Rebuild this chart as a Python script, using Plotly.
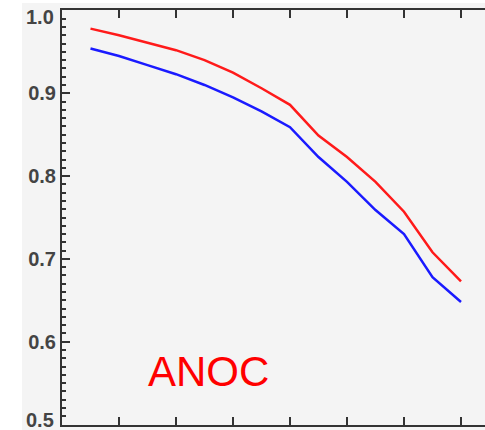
import plotly.graph_objects as go

x_vals = [0.5, 1.0, 1.5, 2.0, 2.5, 3.0, 3.5, 4.0, 4.5, 5.0, 5.5, 6.0, 6.5, 7.0]
red_vals = [0.978, 0.970, 0.961, 0.952, 0.940, 0.925, 0.906, 0.886, 0.849, 0.823, 0.793, 0.757, 0.708, 0.673]
blue_vals = [0.954, 0.945, 0.934, 0.923, 0.910, 0.895, 0.878, 0.859, 0.823, 0.793, 0.759, 0.730, 0.678, 0.648]
y_ticks = [0.6, 0.7, 0.8, 0.9]
y_labels = ["0.6", "0.7", "0.8", "0.9"]
end_labels = ["1.0", "0.5"]
label_text = "ANOC"

fig = go.Figure()
fig.add_trace(go.Scatter(x=x_vals, y=blue_vals, mode="lines",
                         line=dict(color="#1a1aff", width=2.5), showlegend=False))
fig.add_trace(go.Scatter(x=x_vals, y=red_vals, mode="lines",
                         line=dict(color="#ff1a1a", width=2.5), showlegend=False))

fig.add_annotation(x=2.57, y=0.564, xref="x", yref="y", text=label_text,
                   showarrow=False, font=dict(family="Liberation Sans", size=42, color="#ff0000"))

tick_font = dict(family="Liberation Sans", size=20, color="#444444", weight="bold")
# end labels sit slightly inside the axis range, as in the reference
fig.add_annotation(x=0, y=1.0, xref="x", yref="y", text=end_labels[0], showarrow=False,
                   xanchor="right", yanchor="middle", xshift=-6, yshift=-7, font=tick_font)
fig.add_annotation(x=0, y=0.5, xref="x", yref="y", text=end_labels[1], showarrow=False,
                   xanchor="right", yanchor="middle", xshift=-6, yshift=5, font=tick_font)

axis_col = "#333333"
fig.update_layout(
    width=485, height=430,
    margin=dict(l=62, r=0, t=10, b=5),
    paper_bgcolor="#f4f4f4",
    plot_bgcolor="#f4f4f4",
    xaxis=dict(range=[0, 7.421], showgrid=False, zeroline=False, automargin=False,
               showline=True, linecolor=axis_col, linewidth=2, mirror="ticks",
               ticks="inside", ticklen=8, tickwidth=2, tickcolor=axis_col,
               tick0=0, dtick=1, showticklabels=False),
    yaxis=dict(range=[0.4995, 1.0005], showgrid=False, zeroline=False, automargin=False,
               showline=True, linecolor=axis_col, linewidth=2, mirror=False,
               ticks="inside", ticklen=8, tickwidth=2, tickcolor=axis_col,
               tickmode="array", tickvals=y_ticks, ticktext=y_labels,
               ticklabeloverflow="allow",
               tickfont=tick_font,
               minor=dict(tickmode="linear", tick0=0.5, dtick=0.01, ticks="inside",
                          ticklen=4, tickwidth=1.5, tickcolor=axis_col)),
    shapes=[
        dict(type="rect", xref="paper", yref="paper", x0=-62/423, x1=-40/423, y0=-0.1, y1=1.1,
             fillcolor="white", line=dict(width=0), layer="below"),
        dict(type="rect", xref="paper", yref="paper", x0=-0.2, x1=1.1, y0=1 + 7/415, y1=1.1,
             fillcolor="white", line=dict(width=0), layer="below"),
    ],
)

fig.write_html("out.html", config={"displayModeBar": False},
               post_script="document.body.style.margin='0';")
